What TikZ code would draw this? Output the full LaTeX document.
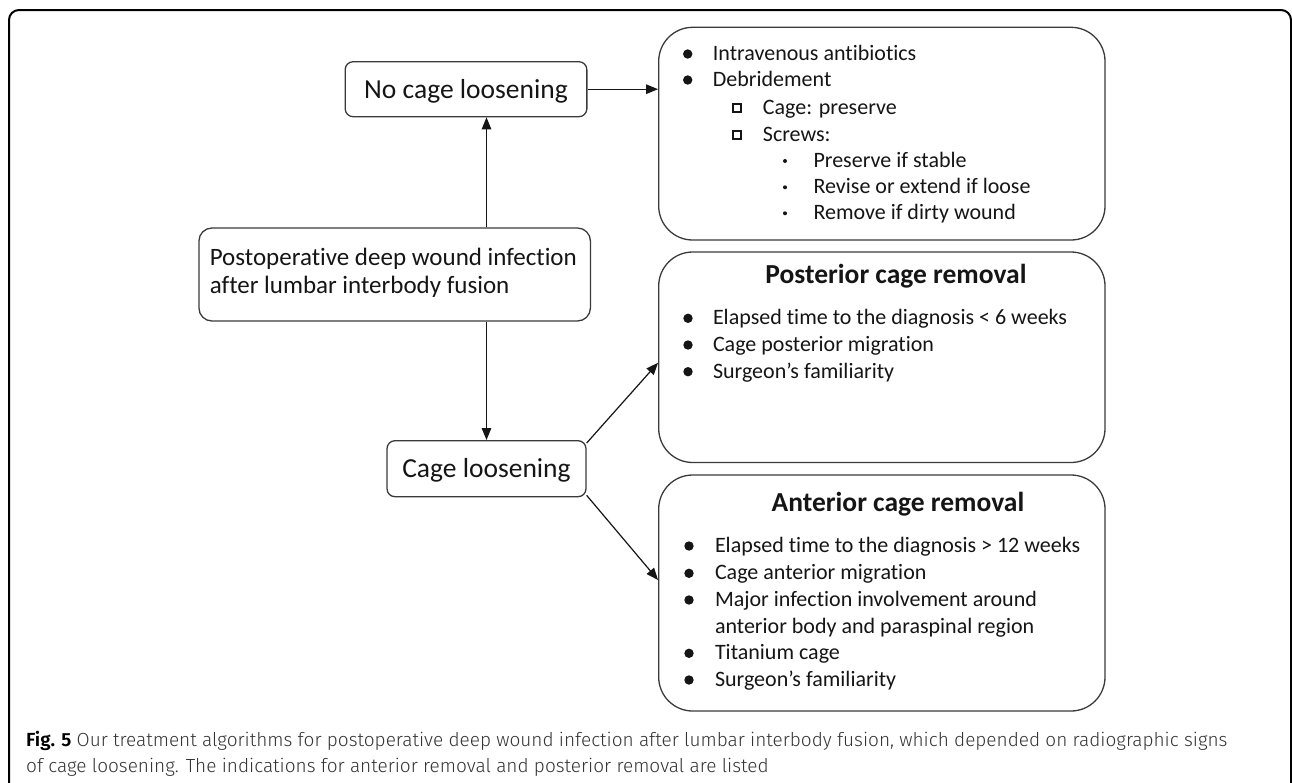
\documentclass[tikz,border=0pt]{standalone}
\usepackage{fontspec}
\setmainfont{Carlito}[Ligatures={NoCommon,NoRare},Contextuals=NoAlternate]
\newfontfamily\capfont{Fira Sans}[UprightFont={* Light},BoldFont={* SemiBold}]
\usetikzlibrary{arrows.meta,calc}
\definecolor{boxgray}{HTML}{3A3A3A}
\definecolor{inkc}{HTML}{151515}
\definecolor{capgray}{HTML}{333333}
\newcommand\itemfont{\fontsize{22}{26}\selectfont}
\newcommand\labfont{\fontsize{27.5}{30}\selectfont}
\newcommand\titfont{\fontsize{27.5}{30}\selectfont\bfseries}
\tikzset{
  smallbox/.style={draw=boxgray, line width=1.3pt, rounded corners=8pt, inner sep=0pt,
    text=inkc, font=\labfont, text height=22pt, text depth=4.4pt},
  bigbox/.style={draw=boxgray, line width=1.3pt, rounded corners=34pt, inner sep=0pt,
    minimum width=446.3pt},
  arr/.style={draw=inkc, line width=1.2pt, -{Triangle[length=12pt,width=9.5pt]}},
  item/.style={anchor=west, inner sep=0pt, font=\itemfont, text=inkc,
    text height=16.4pt, text depth=3.6pt},
  titletext/.style={anchor=center, inner sep=0pt, font=\titfont, text=inkc,
    text height=21pt, text depth=4.4pt},
  dotbig/.style={fill=inkc},
  sqbullet/.style={draw=inkc, line width=2pt},
  capline/.style={anchor=base west, inner sep=0pt, font=\capfont\fontsize{19}{26}\selectfont, text=capgray}
}
\begin{document}
\begin{tikzpicture}[x=1pt,y=-1pt]
\useasboundingbox (0,0) rectangle (1292,782);
% outer frame
\draw[black, line width=2pt, rounded corners=10pt] (9,800) -- (9,10) -- (1291,10) -- (1291,800);

% left boxes
\node[smallbox, minimum width=241.7pt, minimum height=55pt] (nocage) at (466,89.2) {No cage loosening};
\node[draw=boxgray, line width=1.3pt, rounded corners=13pt, inner sep=0pt,
      minimum width=391.5pt, minimum height=93pt] (postop) at (394.7,274.5) {};
\node[anchor=north west, inner sep=0pt, align=left, text=inkc,
      font=\fontsize{25}{28.4}\selectfont] (postoptext) at (209.6,247.5)
      {Postoperative deep wound infection\\after lumbar interbody fusion};
\node[smallbox, minimum width=199pt, minimum height=56pt] (cage) at (486.5,468.7) {Cage loosening};

% right boxes
\node[bigbox, minimum height=212.7pt] (topbox) at (881.85,133.65) {};
\node[bigbox, minimum height=210.5pt] (postbox) at (881.85,357.25) {};
\node[bigbox, minimum height=236pt] (antbox) at (881.85,593) {};

% top box content
\fill[dotbig] (687.7,54) circle (4.7pt);
\node[item] (t1) at (712.7,54) {Intravenous antibiotics};
\fill[dotbig] (687.7,80) circle (4.7pt);
\node[item] (t2) at (712.7,80) {Debridement};
\draw[sqbullet] (733.2,103.5) rectangle (741.4,111.7);
\node[item] (t3) at (762.7,107.7) {Cage: preserve};
\draw[sqbullet] (733.2,131) rectangle (741.4,139.2);
\node[item] (t4) at (762.7,135) {Screws:};
\fill[inkc] (785,161) circle (2pt);
\node[item] (t5) at (813.3,161) {Preserve if stable};
\fill[inkc] (785,187.3) circle (2pt);
\node[item] (t6) at (813.3,187.3) {Revise or extend if loose};
\fill[inkc] (785,213.3) circle (2pt);
\node[item] (t7) at (813.3,213.3) {Remove if dirty wound};

% posterior box content
\node[titletext] (ptitle) at (896,275) {Posterior cage removal};
\fill[dotbig] (688,318.3) circle (4.7pt);
\node[item] (p1) at (712.8,318.3) {Elapsed time to the diagnosis < 6 weeks};
\fill[dotbig] (688,345) circle (4.7pt);
\node[item] (p2) at (712.8,345) {Cage posterior migration};
\fill[dotbig] (688,371.7) circle (4.7pt);
\node[item] (p3) at (712.8,371.7) {Surgeon’s familiarity};

% anterior box content
\node[titletext] (atitle) at (898,503) {Anterior cage removal};
\fill[dotbig] (689,546) circle (4.7pt);
\node[item] (a1) at (714.8,546) {Elapsed time to the diagnosis > 12 weeks};
\fill[dotbig] (689,573.3) circle (4.7pt);
\node[item] (a2) at (714.8,573.3) {Cage anterior migration};
\fill[dotbig] (689,600) circle (4.7pt);
\node[item] (a3) at (714.8,600) {Major infection involvement around};
\node[item] (a3b) at (714.8,626.7) {anterior body and paraspinal region};
\fill[dotbig] (689,653.3) circle (4.7pt);
\node[item] (a4) at (714.8,653.3) {Titanium cage};
\fill[dotbig] (689,680) circle (4.7pt);
\node[item] (a5) at (714.8,680) {Surgeon’s familiarity};

% connectors
\draw[arr] (postop.north -| cage.north) -- (nocage.south -| cage.north);
\draw[arr] (postop.south -| cage.north) -- (cage.north);
\draw[arr] (nocage.east) -- (nocage.east -| topbox.west);
\draw[arr] ($(cage.north east)+(0,3)$) -- ($(postbox.west)+(0,5.5)$);
\draw[arr] ($(cage.south east)+(0,-2)$) -- ($(antbox.west)+(0,-13)$);

% caption
\node[capline] (cap1) at (26,746) {{\bfseries\color{black}Fig. 5} Our treatment algorithms for postoperative deep wound infection after lumbar interbody fusion, which depended on radiographic signs};
\node[capline] (cap2) at (26,772.5) {of cage loosening. The indications for anterior removal and posterior removal are listed};
\end{tikzpicture}
\end{document}
